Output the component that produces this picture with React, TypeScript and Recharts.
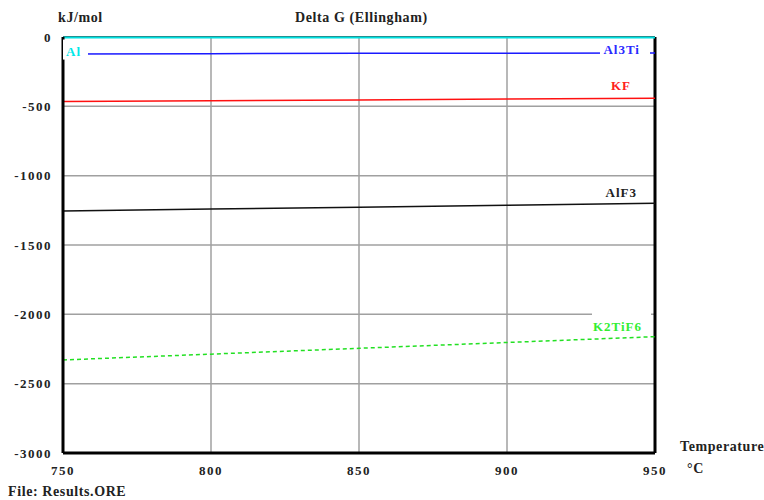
import React from "react";
import {
  LineChart,
  Line,
  CartesianGrid,
  XAxis,
  YAxis,
  ReferenceLine,
} from "recharts";

// temperatures (°C) and Delta G values (kJ/mol)
const temps = [750, 800, 850, 900, 950];
const al = [-4, -4, -4, -4, -4];
const al3ti = [-122, -120, -118, -117, -115];
const kf = [-466, -460, -454, -448, -442];
const alf3 = [-1255, -1241, -1227, -1213, -1199];
const k2tif6 = [-2329, -2287, -2245, -2203, -2161];

const xTicks = [750, 800, 850, 900, 950];
const yTicks = [0, -500, -1000, -1500, -2000, -2500, -3000];

const data = temps.map((t, i) => ({
  t,
  al: al[i],
  al3ti: al3ti[i],
  kf: kf[i],
  alf3: alf3[i],
  k2tif6: k2tif6[i],
}));

const font = "'Liberation Serif', 'DejaVu Serif', serif";

// label drawn next to one end of a curve, optionally with a white box behind it
const makeLabel =
  (
    name: string,
    color: string,
    at: "first" | "last",
    dx: number,
    dy: number,
    box?: [number, number, number, number]
  ) =>
  (props: any) => {
    const { x, y, index } = props;
    const target = at === "first" ? 0 : temps.length - 1;
    if (index !== target) return null;
    return (
      <g>
        {box && (
          <rect x={x + box[0]} y={y + box[1]} width={box[2]} height={box[3]} fill="#fff" />
        )}
        <text
          x={x + dx}
          y={y + dy}
          fill={color}
          textAnchor={at === "first" ? "start" : "end"}
          fontFamily={font}
          fontWeight="bold"
          fontSize={13}
          letterSpacing={1}
        >
          {name}
        </text>
      </g>
    );
  };

const tickStyle = {
  fontFamily: font,
  fontWeight: "bold",
  fontSize: 13,
  fill: "#222",
  letterSpacing: 1.5,
};

const textStyle: React.CSSProperties = {
  position: "absolute",
  fontFamily: font,
  fontWeight: "bold",
  fontSize: 14,
  letterSpacing: 0.6,
  color: "#222",
  whiteSpace: "nowrap",
  lineHeight: "15px",
};

export default function App() {
  return (
    <div style={{ position: "relative", width: 764, height: 500, background: "#fff" }}>
      <style>{`body{margin:0}`}</style>
      <LineChart
        width={764}
        height={500}
        data={data}
        margin={{ top: 37, right: 109, bottom: 0, left: 0 }}
      >
        <CartesianGrid stroke="#a0a0a0" strokeWidth={1.5} />
        <XAxis
          dataKey="t"
          type="number"
          domain={[750, 950]}
          ticks={xTicks}
          height={47}
          tickLine={false}
          tickSize={0}
          tickMargin={13}
          axisLine={{ stroke: "#000", strokeWidth: 3 }}
          tick={tickStyle}
        />
        <YAxis
          type="number"
          domain={[-3000, 0]}
          ticks={yTicks}
          width={63}
          tickLine={false}
          tickSize={0}
          tickMargin={11}
          axisLine={{ stroke: "#000", strokeWidth: 3 }}
          tick={tickStyle}
        />
        <ReferenceLine y={0} stroke="#444" strokeWidth={2} />
        <ReferenceLine x={950} stroke="#000" strokeWidth={3} />
        <Line
          dataKey="k2tif6"
          stroke="#22e022"
          strokeWidth={1.5}
          strokeDasharray="4 3"
          dot={false}
          isAnimationActive={false}
          label={makeLabel("K2TiF6", "#33ee33", "last", -13, -6, [-63, -24, 59, 19])}
        />
        <Line
          dataKey="alf3"
          stroke="#111"
          strokeWidth={1.5}
          dot={false}
          isAnimationActive={false}
          label={makeLabel("AlF3", "#222", "last", -18, -6)}
        />
        <Line
          dataKey="kf"
          stroke="#ff1010"
          strokeWidth={1.5}
          dot={false}
          isAnimationActive={false}
          label={makeLabel("KF", "#ff2020", "last", -24, -8)}
        />
        <Line
          dataKey="al3ti"
          stroke="#1a1aff"
          strokeWidth={1.5}
          dot={false}
          isAnimationActive={false}
          label={makeLabel("Al3Ti", "#2a2aff", "last", -15, 1, [-55, -6, 50, 11])}
        />
        <Line
          dataKey="al"
          stroke="#00e0e0"
          strokeWidth={2}
          dot={false}
          isAnimationActive={false}
          label={makeLabel("Al", "#00e8e8", "first", 3, 18, [0, 2, 25, 20])}
        />
      </LineChart>
      <div style={{ ...textStyle, left: 58, top: 10 }}>kJ/mol</div>
      <div style={{ ...textStyle, left: 295, top: 10 }}>Delta G (Ellingham)</div>
      <div style={{ ...textStyle, left: 680, top: 439 }}>Temperature</div>
      <div style={{ ...textStyle, left: 687, top: 461 }}>°C</div>
      <div style={{ ...textStyle, left: 8, top: 484 }}>File: Results.ORE</div>
    </div>
  );
}
